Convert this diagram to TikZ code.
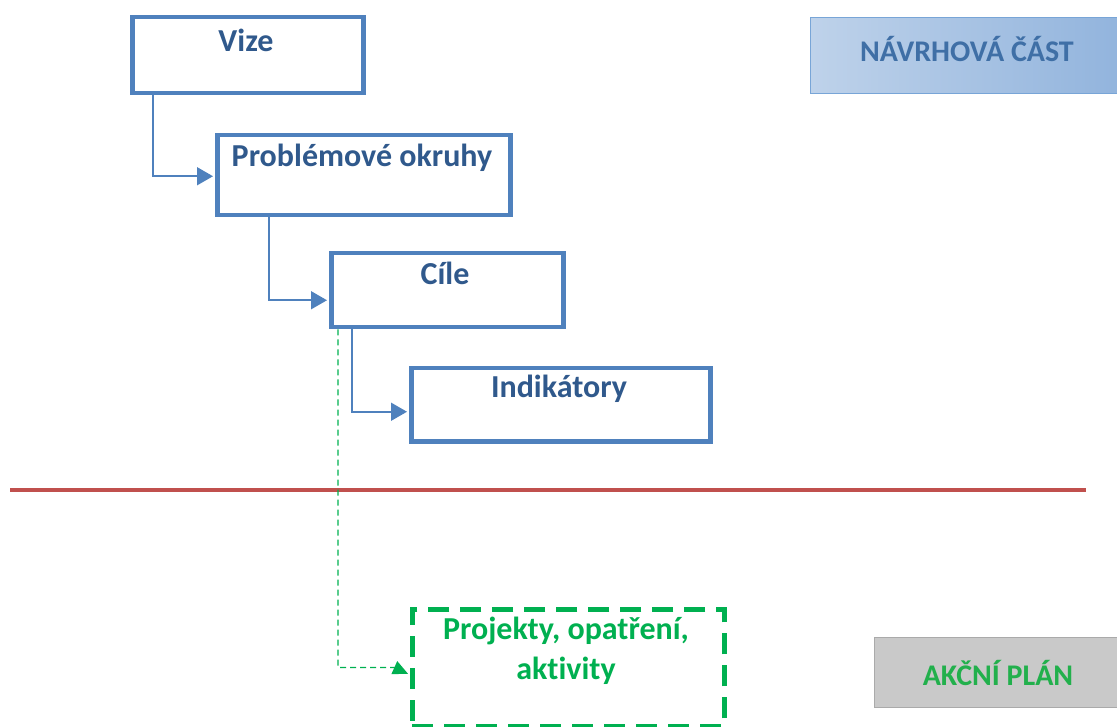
\documentclass[tikz,border=0pt]{standalone}
\usepackage{fontspec}
\setmainfont{Carlito}[Ligatures=NoCommon]
\usetikzlibrary{arrows.meta,calc}
\definecolor{boxblue}{HTML}{4F81BD}
\definecolor{txtblue}{HTML}{30598C}
\definecolor{sideblue}{HTML}{3F6FA6}
\definecolor{grn}{HTML}{00B050}
\definecolor{redline}{HTML}{C0504D}
\tikzset{
  box/.style={draw=boxblue, line width=4.5pt, fill=white, rectangle, inner sep=0pt, anchor=north west},
  lbl/.style={font=\fontsize{32}{40}\selectfont\bfseries, text=txtblue, anchor=base, inner sep=0pt},
  conn/.style={draw=boxblue, line width=1.6pt, shorten >=2pt, -{Triangle[length=16pt,width=18pt]}},
  gconn/.style={draw=grn, line width=1.4pt, dash pattern=on 6pt off 4pt, -{Triangle[length=15pt,width=14pt]}},
  gbox/.style={draw=grn, line width=4.5pt, dash pattern=on 21pt off 11pt, rectangle, inner sep=0pt, anchor=north west},
}
\begin{document}
\begin{tikzpicture}[x=1pt,y=-1pt]
\useasboundingbox (0,0) rectangle (1117,727);
% side labels
\node[rectangle, inner sep=0pt, anchor=north west, minimum width=310pt, minimum height=76pt,
  left color={rgb,255:red,190;green,210;blue,234}, right color={rgb,255:red,146;green,180;blue,221},
  draw={rgb,255:red,120;green,165;blue,215}, line width=1.2pt] (navrh) at (810,17) {};
\node[font=\fontsize{30}{34}\selectfont\bfseries, text=sideblue, anchor=base, inner sep=0pt] (navrht) at (967,62) {NÁVRHOVÁ ČÁST};
\node[rectangle, inner sep=0pt, anchor=north west, minimum width=246pt, minimum height=70pt,
  fill={rgb,255:red,201;green,201;blue,201}, draw={rgb,255:red,170;green,170;blue,170}, line width=1.2pt] (akcni) at (874,637) {};
\node[font=\fontsize{30}{34}\selectfont\bfseries, text={rgb,255:red,34;green,176;blue,76}, anchor=base, inner sep=0pt] (akcnit) at (998,685) {AKČNÍ PLÁN};
% red separator
\coordinate (rl) at (10,490);
\coordinate (rr) at (1086,490);
\draw[redline, line width=3.5pt] (rl) -- (rr);
% boxes
\node[box, minimum width=231pt, minimum height=76pt] (vize) at (130,15) {};
\node[lbl] (vizet) at (246,52) {Vize};
\node[box, minimum width=293pt, minimum height=80pt] (prob) at (215,133) {};
\node[lbl] (probt) at (362,167) {Problémové okruhy};
\node[box, minimum width=232pt, minimum height=74pt] (cile) at (329,251) {};
\node[lbl] (cilet) at (445,285) {Cíle};
\node[box, minimum width=299pt, minimum height=73pt] (ind) at (409,366) {};
\node[lbl] (indt) at (559,397) {Indikátory};
\node[gbox, minimum width=312pt, minimum height=117pt] (proj) at (410,607) {};
\node[lbl, text=grn, align=center, anchor=north] (projt) at (566,617) {Projekty, opatření,\\aktivity};
% connectors
\draw[conn] ($(vize.south west)+(23,0)$) |- ($(prob.west)+(0,1)$);
\draw[conn] ($(prob.south west)+(54,0)$) |- ($(cile.west)+(0,10)$);
\draw[conn] ($(cile.south west)+(23,0)$) |- ($(ind.west)+(0,7)$);
\coordinate (gbend) at ($(cile.south west)+(9,338)$);
\coordinate (gpre) at ($(gbend)+(56,0)$);
\draw[gconn] ($(cile.south west)+(9,0)$) -- (gbend) -- (gpre) -- ($(proj.west)+(-2,6)$);
\end{tikzpicture}
\end{document}
